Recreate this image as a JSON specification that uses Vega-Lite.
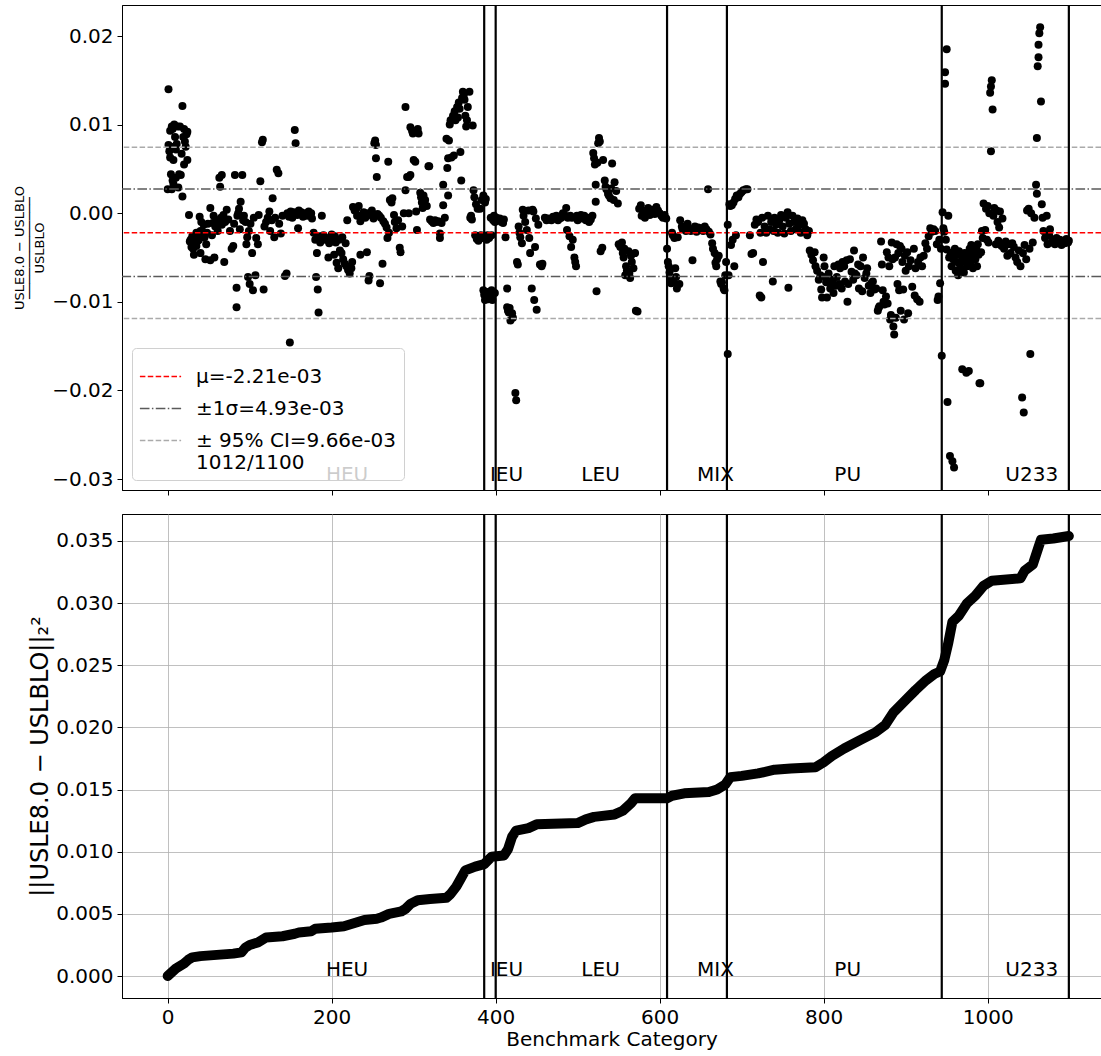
{
"$schema": "https://vega.github.io/schema/vega-lite/v6.json",
"padding": {"left": 13, "top": 3, "right": 0, "bottom": 2},
"config": {
  "font": "DejaVu Sans",
  "view": {"stroke": "black", "strokeWidth": 1},
  "axis": {"domainColor": "black", "tickColor": "black", "labelColor": "black", "titleColor": "black", "labelFontSize": 20, "titleFontSize": 20, "titleFontWeight": "normal", "tickSize": 5, "labelPadding": 4, "grid": false, "labelFont": "DejaVu Sans", "titleFont": "DejaVu Sans"},
  "legend": {"fillColor": "rgba(255,255,255,0.8)", "strokeColor": "#d0d0d0", "cornerRadius": 4, "padding": 7, "labelFontSize": 20, "labelFont": "DejaVu Sans", "labelColor": "black", "symbolType": "stroke", "symbolSize": 1700, "symbolStrokeWidth": 1.5, "rowPadding": 0, "labelOffset": 14, "labelLimit": 400}
},
"datasets": {
"hl": [{"y": -0.00221, "k": "μ=-2.21e-03"}, {"y": 0.00272, "k": "±1σ=4.93e-03"}, {"y": -0.00714, "k": "±1σ=4.93e-03"}, {"y": 0.00745, "k": "± 95% CI=9.66e-03"}, {"y": -0.01187, "k": "± 95% CI=9.66e-03"}],
"vl": [{"x": 386}, {"x": 400}, {"x": 609}, {"x": 682}, {"x": 944}, {"x": 1099}],
"cats": [{"c": "HEU", "x": 193}, {"c": "IEU", "x": 393}, {"c": "LEU", "x": 504.5}, {"c": "MIX", "x": 645.5}, {"c": "PU", "x": 813}, {"c": "U233", "x": 1021.5}],
"cum": [{"x":0,"y":0},{"x":5,"y":0.0003},{"x":10,"y":0.0006},{"x":20,"y":0.0010},{"x":25,"y":0.0013},{"x":30,"y":0.0015},{"x":40,"y":0.0016},{"x":60,"y":0.0017},{"x":80,"y":0.0018},{"x":90,"y":0.0019},{"x":95,"y":0.0023},{"x":100,"y":0.0025},{"x":110,"y":0.0027},{"x":115,"y":0.0029},{"x":120,"y":0.0031},{"x":140,"y":0.0032},{"x":155,"y":0.0034},{"x":160,"y":0.0035},{"x":175,"y":0.0036},{"x":180,"y":0.0038},{"x":200,"y":0.0039},{"x":215,"y":0.0040},{"x":225,"y":0.0042},{"x":240,"y":0.0045},{"x":255,"y":0.0046},{"x":260,"y":0.0047},{"x":270,"y":0.0050},{"x":285,"y":0.0052},{"x":290,"y":0.0054},{"x":296,"y":0.0058},{"x":305,"y":0.0061},{"x":320,"y":0.0062},{"x":340,"y":0.0063},{"x":345,"y":0.0066},{"x":352,"y":0.0072},{"x":358,"y":0.0079},{"x":363,"y":0.0085},{"x":375,"y":0.0088},{"x":386,"y":0.0090},{"x":395,"y":0.0096},{"x":410,"y":0.0097},{"x":415,"y":0.0102},{"x":420,"y":0.0112},{"x":425,"y":0.0117},{"x":440,"y":0.0119},{"x":450,"y":0.0122},{"x":500,"y":0.0123},{"x":510,"y":0.0126},{"x":520,"y":0.0128},{"x":545,"y":0.0130},{"x":555,"y":0.0133},{"x":565,"y":0.0139},{"x":570,"y":0.0143},{"x":609,"y":0.0143},{"x":615,"y":0.0145},{"x":630,"y":0.0147},{"x":660,"y":0.0148},{"x":670,"y":0.0150},{"x":680,"y":0.0154},{"x":686,"y":0.0160},{"x":700,"y":0.0161},{"x":720,"y":0.0163},{"x":740,"y":0.0166},{"x":760,"y":0.0167},{"x":790,"y":0.0168},{"x":800,"y":0.0172},{"x":810,"y":0.0177},{"x":825,"y":0.0183},{"x":845,"y":0.0190},{"x":863,"y":0.0196},{"x":875,"y":0.0202},{"x":885,"y":0.0212},{"x":900,"y":0.0222},{"x":912,"y":0.0230},{"x":925,"y":0.0238},{"x":935,"y":0.0243},{"x":942,"y":0.0245},{"x":947,"y":0.0254},{"x":952,"y":0.0268},{"x":957,"y":0.0285},{"x":965,"y":0.0290},{"x":975,"y":0.0300},{"x":985,"y":0.0306},{"x":995,"y":0.0314},{"x":1005,"y":0.0318},{"x":1040,"y":0.0320},{"x":1045,"y":0.0326},{"x":1055,"y":0.0331},{"x":1062,"y":0.0345},{"x":1065,"y":0.0351},{"x":1080,"y":0.0352},{"x":1099,"y":0.0354}],
"pts": [
{"x":0,"y":0.0027},{"x":1,"y":0.0140},{"x":1,"y":0.0077},{"x":2,"y":0.0070},{"x":3,"y":0.0093},{"x":3,"y":0.0063},{"x":4,"y":0.0075},{"x":4,"y":0.0044},{"x":5,"y":0.0098},{"x":5,"y":0.0027},{"x":6,"y":0.0037},{"x":6,"y":0.0095},{"x":7,"y":0.0060},{"x":7,"y":0.0033},{"x":8,"y":0.0100},{"x":9,"y":0.0086},{"x":10,"y":0.0072},{"x":10,"y":0.0040},{"x":11,"y":0.0078},{"x":12,"y":0.0098},{"x":13,"y":0.0029},{"x":14,"y":0.0044},{"x":15,"y":0.0098},{"x":16,"y":0.0043},{"x":17,"y":0.0067},{"x":18,"y":0.0121},{"x":18,"y":0.0019},{"x":19,"y":0.0086},{"x":20,"y":0.0095},{"x":20,"y":0.0055},{"x":21,"y":0.0081},{"x":22,"y":0.0075},{"x":23,"y":0.0089},{"x":24,"y":0.0092},{"x":24,"y":0.0060},
{"x":26,"y":-0.0002},{"x":27,"y":-0.0032},{"x":28,"y":-0.0030},{"x":29,"y":-0.0038},{"x":30,"y":-0.0035},{"x":30,"y":-0.0026},{"x":31,"y":-0.0040},{"x":32,"y":-0.0047},{"x":33,"y":-0.0028},{"x":34,"y":-0.0034},{"x":35,"y":-0.0037},{"x":35,"y":-0.0022},{"x":36,"y":-0.0025},{"x":37,"y":-0.0031},{"x":38,"y":-0.0030},{"x":39,"y":-0.0004},{"x":40,"y":-0.0045},{"x":40,"y":-0.0020},{"x":41,"y":-0.0010},{"x":42,"y":-0.0020},{"x":43,"y":-0.0027},{"x":44,"y":-0.0013},{"x":45,"y":-0.0027},{"x":46,"y":-0.0052},{"x":47,"y":-0.0035},{"x":48,"y":-0.0022},{"x":49,"y":-0.0012},
{"x":52,"y":0.0006},{"x":52,"y":-0.0053},{"x":54,"y":-0.0025},{"x":55,"y":-0.0011},{"x":56,"y":-0.0003},{"x":57,"y":-0.0050},{"x":58,"y":-0.0015},{"x":60,"y":-0.0008},{"x":61,"y":-0.0020},{"x":63,"y":0.0040},{"x":64,"y":0.0030},{"x":65,"y":-0.0005},{"x":66,"y":0.0043},{"x":66,"y":-0.0013},{"x":68,"y":-0.0002},{"x":69,"y":-0.0055},{"x":70,"y":-0.0010},{"x":72,"y":0.0004},{"x":74,"y":-0.0007},{"x":76,"y":-0.0020},{"x":78,"y":-0.0040},{"x":80,"y":-0.0037},{"x":81,"y":-0.0012},{"x":82,"y":0.0043},{"x":84,"y":-0.0084},{"x":84,"y":-0.0106},{"x":85,"y":-0.0003},{"x":86,"y":0.0000},{"x":87,"y":0.0005},{"x":88,"y":-0.0018},{"x":89,"y":0.0013},{"x":91,"y":0.0043},{"x":92,"y":-0.0008},{"x":93,"y":-0.0003},{"x":95,"y":-0.0010},{"x":96,"y":-0.0035},{"x":97,"y":-0.0027},{"x":98,"y":-0.0072},{"x":99,"y":-0.0020},{"x":100,"y":-0.0080},
{"x":101,"y":-0.0012},{"x":103,"y":-0.0045},{"x":104,"y":-0.0087},{"x":105,"y":-0.0005},{"x":107,"y":-0.0070},{"x":108,"y":-0.0028},{"x":110,"y":-0.0035},{"x":111,"y":-0.0002},{"x":113,"y":0.0036},{"x":115,"y":0.0080},{"x":116,"y":0.0083},{"x":117,"y":-0.0086},{"x":118,"y":-0.0015},{"x":120,"y":-0.0010},{"x":122,"y":-0.0005},{"x":124,"y":0.0002},{"x":125,"y":-0.0020},{"x":127,"y":-0.0008},{"x":128,"y":0.0017},{"x":130,"y":-0.0027},{"x":131,"y":-0.0005},{"x":133,"y":0.0049},{"x":135,"y":0.0045},{"x":136,"y":-0.0012},{"x":138,"y":-0.0023},{"x":140,"y":-0.0003},{"x":143,"y":-0.0071},{"x":145,"y":-0.0068},{"x":146,"y":0.0000},{"x":148,"y":-0.0004},{"x":149,"y":-0.0146},{"x":150,"y":0.0002},{"x":152,"y":-0.0005},{"x":154,"y":0.0001},{"x":155,"y":0.0094},{"x":156,"y":0.0079},{"x":158,"y":-0.0002},{"x":159,"y":-0.0017},{"x":160,"y":0.0003},{"x":162,"y":-0.0001},{"x":163,"y":0.0001},{"x":165,"y":-0.0004},{"x":168,"y":0.0000},{"x":170,"y":-0.0003},{"x":172,"y":0.0002},{"x":175,"y":0.0000},{"x":176,"y":-0.0006},{"x":178,"y":-0.0022},{"x":180,"y":-0.0030},{"x":181,"y":-0.0072},{"x":182,"y":-0.0045},{"x":183,"y":-0.0086},{"x":184,"y":-0.0112},{"x":185,"y":-0.0026},{"x":186,"y":-0.0033},{"x":188,"y":-0.0003},{"x":190,"y":-0.0025},{"x":192,"y":-0.0030},{"x":194,"y":-0.0028},{"x":196,"y":-0.0050},{"x":197,"y":-0.0034},{"x":199,"y":-0.0032},
{"x":200,"y":-0.0024},{"x":201,"y":-0.0029},{"x":203,"y":-0.0047},{"x":204,"y":-0.0026},{"x":205,"y":-0.0033},{"x":206,"y":-0.0056},{"x":208,"y":-0.0062},{"x":209,"y":-0.0030},{"x":210,"y":-0.0042},{"x":212,"y":-0.0045},{"x":213,"y":-0.0027},{"x":214,"y":-0.0052},{"x":216,"y":-0.0057},{"x":217,"y":-0.0034},{"x":218,"y":-0.0060},{"x":219,"y":-0.0008},{"x":220,"y":-0.0064},{"x":222,"y":-0.0068},{"x":224,"y":-0.0062},{"x":225,"y":-0.0055},{"x":226,"y":0.0007},{"x":228,"y":0.0003},{"x":230,"y":0.0005},{"x":231,"y":-0.0003},{"x":233,"y":0.0008},{"x":235,"y":-0.0047},{"x":235,"y":-0.0009},{"x":237,"y":-0.0002},{"x":239,"y":0.0001},{"x":241,"y":-0.0005},{"x":243,"y":-0.0044},{"x":244,"y":0.0000},{"x":245,"y":-0.0076},{"x":246,"y":-0.0071},{"x":247,"y":-0.0002},{"x":249,"y":0.0003},{"x":251,"y":-0.0006},{"x":252,"y":0.0079},{"x":253,"y":0.0082},{"x":254,"y":0.0077},{"x":254,"y":0.0062},{"x":255,"y":0.0041},{"x":256,"y":-0.0001},{"x":258,"y":-0.0003},{"x":259,"y":-0.0079},{"x":260,"y":-0.0005},{"x":262,"y":-0.0057},{"x":263,"y":-0.0009},{"x":265,"y":-0.0012},{"x":267,"y":-0.0016},{"x":268,"y":-0.0028},{"x":269,"y":0.0058},{"x":270,"y":-0.0022},{"x":271,"y":0.0015},{"x":273,"y":0.0012},{"x":274,"y":0.0017},{"x":276,"y":-0.0002},{"x":277,"y":-0.0010},{"x":279,"y":-0.0017},{"x":281,"y":-0.0008},{"x":283,"y":-0.0039},{"x":284,"y":-0.0044},{"x":286,"y":-0.0015},
{"x":288,"y":0.0000},{"x":290,"y":0.0120},{"x":290,"y":0.0026},{"x":292,"y":0.0041},{"x":294,"y":0.0041},{"x":294,"y":0.0000},{"x":296,"y":0.0043},{"x":296,"y":0.0097},{"x":298,"y":0.0093},{"x":299,"y":0.0090},{"x":300,"y":0.0060},{"x":301,"y":0.0092},{"x":302,"y":0.0058},{"x":303,"y":0.0002},{"x":304,"y":-0.0019},{"x":305,"y":0.0095},{"x":306,"y":0.0090},{"x":308,"y":0.0023},{"x":309,"y":0.0018},{"x":310,"y":0.0012},{"x":311,"y":0.0006},{"x":312,"y":0.0020},{"x":313,"y":0.0010},{"x":314,"y":0.0015},{"x":316,"y":0.0008},{"x":318,"y":0.0053},{"x":319,"y":0.0053},{"x":320,"y":-0.0007},{"x":322,"y":-0.0009},{"x":324,"y":-0.0011},{"x":326,"y":-0.0008},{"x":328,"y":-0.0010},{"x":330,"y":-0.0009},{"x":332,"y":-0.0023},{"x":332,"y":-0.0028},{"x":334,"y":-0.0011},{"x":336,"y":0.0032},{"x":336,"y":0.0009},{"x":338,"y":-0.0005},{"x":340,"y":0.0084},{"x":341,"y":0.0051},{"x":342,"y":0.0062},{"x":342,"y":0.0020},{"x":343,"y":0.0082},{"x":344,"y":0.0100},{"x":345,"y":0.0105},{"x":346,"y":0.0063},{"x":348,"y":0.0110},{"x":349,"y":0.0065},{"x":350,"y":0.0115},{"x":351,"y":0.0105},{"x":353,"y":0.0120},{"x":354,"y":0.0108},{"x":355,"y":0.0125},{"x":356,"y":0.0118},{"x":357,"y":0.0069},{"x":358,"y":0.0037},{"x":359,"y":0.0130},{"x":360,"y":0.0137},{"x":361,"y":0.0133},{"x":362,"y":0.0128},{"x":363,"y":0.0110},{"x":364,"y":0.0098},{"x":365,"y":0.0105},{"x":366,"y":0.0120},{"x":368,"y":0.0137},{"x":369,"y":-0.0005},{"x":370,"y":-0.0003},{"x":371,"y":-0.0007},{"x":372,"y":0.0099},{"x":373,"y":0.0026},{"x":374,"y":0.0018},{"x":375,"y":-0.0025},{"x":376,"y":0.0010},{"x":377,"y":-0.0029},{"x":378,"y":0.0005},{"x":379,"y":-0.0031},{"x":380,"y":-0.0027},{"x":381,"y":0.0005},{"x":382,"y":-0.0025},{"x":383,"y":0.0015},{"x":384,"y":-0.0028},{"x":385,"y":0.0020},{"x":385,"y":-0.0087},
{"x":386,"y":-0.0092},{"x":387,"y":-0.0098},{"x":387,"y":0.0012},{"x":388,"y":-0.0095},{"x":388,"y":0.0016},{"x":389,"y":-0.0030},{"x":390,"y":-0.0025},{"x":390,"y":-0.0089},{"x":391,"y":-0.0097},{"x":392,"y":-0.0028},{"x":393,"y":-0.0094},{"x":394,"y":-0.0005},{"x":395,"y":-0.0025},{"x":395,"y":-0.0087},{"x":396,"y":-0.0098},{"x":397,"y":-0.0008},{"x":398,"y":-0.0003},{"x":399,"y":-0.0010},{"x":399,"y":-0.0090},
{"x":401,"y":-0.0005},{"x":403,"y":-0.0008},{"x":405,"y":-0.0006},{"x":407,"y":-0.0010},{"x":409,"y":-0.0011},{"x":410,"y":-0.0007},{"x":412,"y":-0.0027},{"x":414,"y":-0.0085},{"x":414,"y":-0.0106},{"x":415,"y":-0.0110},{"x":416,"y":-0.0112},{"x":417,"y":-0.0107},{"x":418,"y":-0.0121},{"x":420,"y":-0.0113},{"x":421,"y":-0.0118},{"x":424,"y":-0.0203},{"x":425,"y":-0.0211},{"x":426,"y":-0.0055},{"x":427,"y":-0.0058},{"x":428,"y":-0.0015},{"x":429,"y":-0.0022},{"x":430,"y":-0.0027},{"x":432,"y":-0.0034},{"x":433,"y":0.0004},{"x":434,"y":-0.0003},{"x":436,"y":-0.0010},{"x":438,"y":-0.0019},{"x":440,"y":0.0003},{"x":441,"y":-0.0028},{"x":442,"y":-0.0045},{"x":444,"y":-0.0085},{"x":445,"y":0.0004},{"x":446,"y":0.0002},{"x":447,"y":-0.0098},{"x":448,"y":-0.0038},{"x":449,"y":-0.0006},{"x":450,"y":-0.0109},{"x":452,"y":-0.0013},{"x":454,"y":-0.0058},{"x":456,"y":-0.0060},{"x":457,"y":-0.0057},{"x":460,"y":-0.0005},{"x":462,"y":-0.0008},{"x":464,"y":-0.0006},{"x":466,"y":-0.0007},{"x":468,"y":-0.0008},{"x":470,"y":-0.0004},{"x":472,"y":-0.0006},{"x":474,"y":-0.0003},{"x":476,"y":-0.0008},{"x":478,"y":-0.0006},{"x":480,"y":-0.0005},{"x":482,"y":0.0000},{"x":484,"y":-0.0002},{"x":486,"y":0.0006},{"x":487,"y":-0.0019},{"x":488,"y":-0.0005},{"x":490,"y":-0.0026},{"x":491,"y":-0.0003},{"x":492,"y":-0.0038},{"x":493,"y":-0.0005},{"x":494,"y":-0.0030},{"x":496,"y":-0.0050},{"x":497,"y":-0.0055},{"x":498,"y":-0.0060},{"x":499,"y":-0.0003},{"x":500,"y":-0.0008},{"x":502,"y":-0.0004},{"x":504,"y":-0.0002},{"x":506,"y":-0.0006},{"x":508,"y":-0.0003},{"x":510,"y":-0.0008},{"x":512,"y":-0.0005},{"x":514,"y":-0.0010},{"x":516,"y":-0.0007},{"x":518,"y":-0.0003},{"x":519,"y":0.0068},{"x":520,"y":0.0062},{"x":521,"y":0.0055},{"x":522,"y":0.0032},{"x":522,"y":0.0013},{"x":523,"y":-0.0088},{"x":524,"y":0.0057},{"x":525,"y":0.0079},{"x":526,"y":0.0085},{"x":527,"y":0.0081},{"x":528,"y":-0.0043},{"x":530,"y":-0.0039},{"x":531,"y":0.0060},{"x":533,"y":0.0037},{"x":534,"y":0.0030},{"x":535,"y":0.0027},{"x":537,"y":0.0022},{"x":538,"y":0.0020},{"x":540,"y":0.0017},{"x":541,"y":0.0028},{"x":542,"y":0.0056},{"x":544,"y":0.0015},{"x":545,"y":0.0035},{"x":547,"y":0.0025},{"x":549,"y":0.0011},{"x":550,"y":-0.0035},{"x":552,"y":-0.0038},{"x":554,"y":-0.0033},{"x":555,"y":-0.0045},{"x":556,"y":-0.0050},{"x":557,"y":-0.0040},{"x":558,"y":-0.0070},{"x":559,"y":-0.0060},{"x":560,"y":-0.0065},{"x":562,"y":-0.0043},{"x":563,"y":-0.0068},{"x":564,"y":-0.0073},{"x":565,"y":-0.0048},{"x":566,"y":-0.0055},{"x":568,"y":-0.0062},{"x":570,"y":-0.0045},{"x":571,"y":-0.0110},{"x":573,"y":-0.0111},{"x":575,"y":0.0005},{"x":577,"y":0.0009},{"x":578,"y":-0.0003},{"x":580,"y":0.0001},{"x":582,"y":-0.0005},{"x":584,"y":0.0003},{"x":586,"y":0.0006},{"x":588,"y":-0.0002},{"x":590,"y":0.0001},{"x":592,"y":0.0004},{"x":594,"y":-0.0001},{"x":596,"y":0.0007},{"x":598,"y":0.0003},{"x":600,"y":0.0000},{"x":602,"y":-0.0003},{"x":604,"y":-0.0005},{"x":606,"y":-0.0002},{"x":608,"y":-0.0006},
{"x":609,"y":-0.0040},{"x":610,"y":-0.0055},{"x":611,"y":-0.0060},{"x":612,"y":-0.0067},{"x":613,"y":-0.0076},{"x":614,"y":-0.0079},{"x":615,"y":-0.0022},{"x":616,"y":-0.0025},{"x":617,"y":-0.0078},{"x":618,"y":-0.0028},{"x":619,"y":-0.0062},{"x":620,"y":-0.0072},{"x":621,"y":-0.0085},{"x":622,"y":-0.0027},{"x":624,"y":-0.0080},{"x":625,"y":-0.0008},{"x":627,"y":-0.0015},{"x":628,"y":-0.0018},{"x":630,"y":-0.0015},{"x":632,"y":-0.0020},{"x":634,"y":-0.0012},{"x":636,"y":-0.0018},{"x":638,"y":-0.0020},{"x":640,"y":-0.0053},{"x":641,"y":-0.0018},{"x":643,"y":-0.0015},{"x":645,"y":-0.0021},{"x":647,"y":-0.0016},{"x":649,"y":-0.0019},{"x":651,"y":-0.0017},{"x":653,"y":-0.0020},{"x":655,"y":-0.0015},{"x":657,"y":-0.0018},{"x":659,"y":0.0027},{"x":660,"y":-0.0021},{"x":662,"y":-0.0024},{"x":664,"y":-0.0034},{"x":665,"y":-0.0040},{"x":667,"y":-0.0045},{"x":668,"y":-0.0056},{"x":669,"y":-0.0060},{"x":670,"y":-0.0052},{"x":672,"y":-0.0048},{"x":674,"y":-0.0077},{"x":675,"y":-0.0080},{"x":676,"y":-0.0078},{"x":678,"y":-0.0085},{"x":679,"y":-0.0087},{"x":680,"y":-0.0070},{"x":681,"y":-0.0055},
{"x":683,"y":-0.0159},{"x":683,"y":-0.0013},{"x":684,"y":-0.0070},{"x":685,"y":0.0010},{"x":686,"y":0.0008},{"x":687,"y":-0.0036},{"x":688,"y":0.0009},{"x":689,"y":-0.0030},{"x":690,"y":0.0012},{"x":691,"y":-0.0060},{"x":692,"y":0.0016},{"x":693,"y":-0.0025},{"x":694,"y":0.0020},{"x":696,"y":0.0018},{"x":698,"y":0.0022},{"x":700,"y":0.0024},{"x":702,"y":0.0026},{"x":705,"y":0.0027},{"x":707,"y":0.0027},{"x":710,"y":-0.0025},{"x":712,"y":-0.0046},{"x":714,"y":-0.0045},{"x":716,"y":-0.0013},{"x":718,"y":-0.0007},{"x":720,"y":-0.0010},{"x":722,"y":-0.0093},{"x":723,"y":-0.0022},{"x":724,"y":-0.0095},{"x":725,"y":-0.0005},{"x":726,"y":-0.0055},{"x":728,"y":-0.0015},{"x":730,"y":-0.0022},{"x":732,"y":-0.0003},{"x":734,"y":-0.0018},{"x":736,"y":-0.0010},{"x":738,"y":-0.0077},{"x":739,"y":-0.0020},{"x":740,"y":-0.0005},{"x":742,"y":-0.0013},{"x":744,"y":-0.0022},{"x":746,"y":-0.0008},{"x":748,"y":-0.0002},{"x":750,"y":-0.0015},{"x":752,"y":-0.0023},{"x":754,"y":-0.0005},{"x":756,"y":0.0001},{"x":757,"y":-0.0084},{"x":758,"y":-0.0012},{"x":760,"y":-0.0020},{"x":762,"y":-0.0003},{"x":764,"y":-0.0010},{"x":766,"y":-0.0018},{"x":768,"y":-0.0006},{"x":770,"y":-0.0014},{"x":772,"y":-0.0022},{"x":774,"y":-0.0008},{"x":776,"y":-0.0012},{"x":778,"y":-0.0018},{"x":780,"y":-0.0025},{"x":782,"y":-0.0020},{"x":783,"y":-0.0042},{"x":785,"y":-0.0047},{"x":787,"y":-0.0053},{"x":789,"y":-0.0044},{"x":790,"y":-0.0060},{"x":792,"y":-0.0065},{"x":794,"y":-0.0075},{"x":796,"y":-0.0070},{"x":797,"y":-0.0086},{"x":798,"y":-0.0095},{"x":800,"y":-0.0050},{"x":801,"y":-0.0060},{"x":802,"y":-0.0072},{"x":803,"y":-0.0078},{"x":804,"y":-0.0095},{"x":806,"y":-0.0068},{"x":808,"y":-0.0085},{"x":810,"y":-0.0080},{"x":811,"y":-0.0075},{"x":812,"y":-0.0090},{"x":813,"y":-0.0060},{"x":815,"y":-0.0082},{"x":816,"y":-0.0072},{"x":818,"y":-0.0058},{"x":819,"y":-0.0080},{"x":820,"y":-0.0062},{"x":822,"y":-0.0085},{"x":823,"y":-0.0055},{"x":825,"y":-0.0060},{"x":826,"y":-0.0077},{"x":828,"y":-0.0053},{"x":829,"y":-0.0100},{"x":830,"y":-0.0080},{"x":832,"y":-0.0052},{"x":834,"y":-0.0066},{"x":836,"y":-0.0075},{"x":837,"y":-0.0042},{"x":838,"y":-0.0068},{"x":840,"y":-0.0070},{"x":842,"y":-0.0058},{"x":843,"y":-0.0085},{"x":845,"y":-0.0060},{"x":847,"y":-0.0088},{"x":848,"y":-0.0050},{"x":850,"y":-0.0073},{"x":852,"y":-0.0068},{"x":853,"y":-0.0062},{"x":855,"y":-0.0082},{"x":857,"y":-0.0090},{"x":858,"y":-0.0079},{"x":860,"y":-0.0077},{"x":862,"y":-0.0086},{"x":864,"y":-0.0085},{"x":866,"y":-0.0110},{"x":867,"y":-0.0107},{"x":868,"y":-0.0105},{"x":870,"y":-0.0032},{"x":871,"y":-0.0058},{"x":872,"y":-0.0087},{"x":873,"y":-0.0100},{"x":874,"y":-0.0103},{"x":876,"y":-0.0094},{"x":877,"y":-0.0044},{"x":878,"y":-0.0102},{"x":879,"y":-0.0050},{"x":880,"y":-0.0060},{"x":881,"y":-0.0120},{"x":882,"y":-0.0115},{"x":883,"y":-0.0033},{"x":884,"y":-0.0052},{"x":885,"y":-0.0128},{"x":886,"y":-0.0137},{"x":887,"y":-0.0050},{"x":888,"y":-0.0118},{"x":889,"y":-0.0035},{"x":890,"y":-0.0080},{"x":891,"y":-0.0045},{"x":892,"y":-0.0087},{"x":893,"y":-0.0037},{"x":894,"y":-0.0110},{"x":895,"y":-0.0040},{"x":896,"y":-0.0055},{"x":897,"y":-0.0086},{"x":898,"y":-0.0120},{"x":899,"y":-0.0048},{"x":900,"y":-0.0065},{"x":902,"y":-0.0044},{"x":903,"y":-0.0113},{"x":904,"y":-0.0060},{"x":906,"y":-0.0053},{"x":908,"y":-0.0083},{"x":910,"y":-0.0040},{"x":911,"y":-0.0093},{"x":912,"y":-0.0062},{"x":914,"y":-0.0097},{"x":915,"y":-0.0055},{"x":917,"y":-0.0100},{"x":918,"y":-0.0050},{"x":920,"y":-0.0060},{"x":922,"y":-0.0048},{"x":924,"y":-0.0034},{"x":926,"y":-0.0040},{"x":928,"y":-0.0026},{"x":930,"y":-0.0017},{"x":932,"y":-0.0021},{"x":934,"y":-0.0018},{"x":936,"y":-0.0020},{"x":938,"y":-0.0035},{"x":939,"y":-0.0098},{"x":940,"y":-0.0094},{"x":941,"y":-0.0030},{"x":942,"y":-0.0079},{"x":943,"y":-0.0040},{"x":944,"y":-0.0161},
{"x":945,"y":0.0001},{"x":946,"y":-0.0017},{"x":947,"y":-0.0021},{"x":948,"y":0.0159},{"x":948,"y":0.0146},{"x":949,"y":-0.0030},{"x":950,"y":0.0185},{"x":950,"y":-0.0041},{"x":951,"y":-0.0213},{"x":952,"y":-0.0003},{"x":953,"y":-0.0050},{"x":954,"y":-0.0274},{"x":955,"y":-0.0045},{"x":956,"y":-0.0060},{"x":957,"y":-0.0280},{"x":958,"y":-0.0052},{"x":959,"y":-0.0287},{"x":960,"y":-0.0040},{"x":961,"y":-0.0065},{"x":962,"y":-0.0047},{"x":963,"y":-0.0055},{"x":964,"y":-0.0070},{"x":965,"y":-0.0043},{"x":966,"y":-0.0058},{"x":967,"y":-0.0062},{"x":968,"y":-0.0048},{"x":969,"y":-0.0176},{"x":970,"y":-0.0053},{"x":971,"y":-0.0067},{"x":972,"y":-0.0045},{"x":973,"y":-0.0055},{"x":974,"y":-0.0180},{"x":975,"y":-0.0060},{"x":976,"y":-0.0048},{"x":977,"y":-0.0178},{"x":978,"y":-0.0040},{"x":979,"y":-0.0056},{"x":980,"y":-0.0036},{"x":981,"y":-0.0050},{"x":982,"y":-0.0062},{"x":983,"y":-0.0045},{"x":984,"y":-0.0038},{"x":985,"y":-0.0052},{"x":986,"y":-0.0040},{"x":987,"y":-0.0060},{"x":988,"y":-0.0035},{"x":989,"y":-0.0047},{"x":990,"y":-0.0192},{"x":991,"y":-0.0192},{"x":992,"y":-0.0044},{"x":993,"y":-0.0020},{"x":994,"y":-0.0028},{"x":995,"y":0.0011},{"x":997,"y":-0.0019},{"x":998,"y":0.0005},{"x":999,"y":-0.0030},{"x":1000,"y":0.0008},{"x":1001,"y":-0.0033},{"x":1002,"y":0.0000},{"x":1003,"y":0.0136},{"x":1004,"y":0.0143},{"x":1004,"y":0.0070},{"x":1005,"y":0.0150},{"x":1006,"y":0.0117},{"x":1007,"y":-0.0003},{"x":1008,"y":0.0006},{"x":1010,"y":-0.0035},{"x":1011,"y":0.0003},{"x":1012,"y":-0.0010},{"x":1013,"y":-0.0031},{"x":1014,"y":-0.0016},{"x":1015,"y":0.0002},{"x":1017,"y":-0.0037},{"x":1018,"y":-0.0006},{"x":1020,"y":-0.0040},{"x":1022,"y":-0.0032},{"x":1024,"y":-0.0048},{"x":1026,"y":-0.0035},{"x":1028,"y":-0.0045},{"x":1030,"y":-0.0034},{"x":1032,"y":-0.0038},{"x":1034,"y":-0.0050},{"x":1036,"y":-0.0055},{"x":1038,"y":-0.0042},{"x":1040,"y":-0.0060},{"x":1042,"y":-0.0208},{"x":1043,"y":-0.0045},{"x":1044,"y":-0.0225},{"x":1045,"y":-0.0036},{"x":1047,"y":-0.0052},{"x":1048,"y":0.0003},{"x":1050,"y":0.0005},{"x":1051,"y":-0.0040},{"x":1052,"y":-0.0159},{"x":1053,"y":0.0000},{"x":1055,"y":-0.0033},{"x":1057,"y":-0.0005},{"x":1059,"y":0.0032},{"x":1060,"y":0.0085},{"x":1060,"y":0.0022},{"x":1061,"y":0.0166},{"x":1062,"y":0.0176},{"x":1062,"y":0.0190},{"x":1063,"y":0.0203},{"x":1064,"y":0.0210},{"x":1065,"y":0.0126},{"x":1066,"y":0.0010},{"x":1067,"y":-0.0005},{"x":1068,"y":-0.0020},{"x":1070,"y":-0.0028},{"x":1072,"y":-0.0003},{"x":1073,"y":-0.0035},{"x":1075,"y":-0.0025},{"x":1076,"y":-0.0018},{"x":1078,"y":-0.0033},{"x":1080,"y":-0.0030},{"x":1082,"y":-0.0035},{"x":1084,"y":-0.0028},{"x":1086,"y":-0.0033},{"x":1088,"y":-0.0030},{"x":1090,"y":-0.0036},{"x":1092,"y":-0.0031},{"x":1094,"y":-0.0034},{"x":1096,"y":-0.0029},{"x":1098,"y":-0.0033},{"x":1099,"y":-0.0031}
]
},
"spacing": 16,
"resolve": {"scale": {"y": "independent", "color": "independent", "strokeDash": "independent"}, "legend": {"color": "independent", "strokeDash": "independent"}},
"vconcat": [
{
 "width": 979, "height": 485,
 "layer": [
  {"data": {"name": "pts"}, "mark": {"type": "circle", "size": 64, "color": "black", "opacity": 1},
   "encoding": {
    "x": {"field": "x", "type": "quantitative", "scale": {"domain": [-55.7, 1138.2], "nice": false, "zero": false}, "axis": {"values": [0, 200, 400, 600, 800, 1000], "labels": false, "title": null}},
    "y": {"field": "y", "type": "quantitative", "scale": {"domain": [-0.03124, 0.0235], "nice": false, "zero": false}, "axis": {"values": [-0.03, -0.02, -0.01, 0, 0.01, 0.02], "format": ".2f", "title": ["USLE8.0 − USLBLO", "─────────────", "USLBLO"], "titleFontSize": 13, "titleLineHeight": 10, "titlePadding": 5}}
   }},
  {"data": {"name": "hl"}, "mark": {"type": "rule", "strokeWidth": 1.5},
   "encoding": {
    "y": {"field": "y", "type": "quantitative"},
    "color": {"field": "k", "type": "nominal", "scale": {"domain": ["μ=-2.21e-03", "±1σ=4.93e-03", "± 95% CI=9.66e-03"], "range": ["#ff0000", "#5a5a5a", "#aaaaaa"]}, "legend": {"title": null, "orient": "bottom-left", "offset": 10, "labelExpr": "datum.label == '± 95% CI=9.66e-03' ? ['± 95% CI=9.66e-03', '1012/1100'] : datum.label"}},
    "strokeDash": {"field": "k", "type": "nominal", "scale": {"domain": ["μ=-2.21e-03", "±1σ=4.93e-03", "± 95% CI=9.66e-03"], "range": [[5.5, 2.4], [9.6, 2.4, 1.5, 2.4], [5.5, 2.4]]}, "legend": {"title": null, "orient": "bottom-left", "offset": 10, "labelExpr": "datum.label == '± 95% CI=9.66e-03' ? ['± 95% CI=9.66e-03', '1012/1100'] : datum.label"}}
   }},
  {"data": {"name": "vl"}, "mark": {"type": "rule", "color": "black", "strokeWidth": 2.2}, "encoding": {"x": {"field": "x", "type": "quantitative"}}},
  {"data": {"name": "cats"}, "mark": {"type": "text", "align": "left", "baseline": "alphabetic", "fontSize": 20, "color": "black"},
   "encoding": {"x": {"field": "x", "type": "quantitative"}, "y": {"datum": -0.0302}, "text": {"field": "c"}}}
 ]
},
{
 "width": 979, "height": 484,
 "layer": [
  {"data": {"name": "cum"}, "mark": {"type": "line", "color": "black", "strokeWidth": 10, "strokeCap": "round", "strokeJoin": "round"},
   "encoding": {
    "x": {"field": "x", "type": "quantitative", "scale": {"domain": [-55.7, 1138.2], "nice": false, "zero": false}, "axis": {"values": [0, 200, 400, 600, 800, 1000], "format": "d", "title": "Benchmark Category", "titlePadding": 2, "grid": true, "gridColor": "#b0b0b0", "gridWidth": 0.8}},
    "y": {"field": "y", "type": "quantitative", "scale": {"domain": [-0.00177, 0.03717], "nice": false, "zero": false}, "axis": {"values": [0, 0.005, 0.01, 0.015, 0.02, 0.025, 0.03, 0.035], "format": ".3f", "title": "||USLE8.0 − USLBLO||₂²", "titleFontSize": 24, "titlePadding": 3, "grid": true, "gridColor": "#b0b0b0", "gridWidth": 0.8}}
   }},
  {"data": {"name": "cum"}, "mark": {"type": "circle", "size": 70, "color": "black", "opacity": 1},
   "encoding": {"x": {"field": "x", "type": "quantitative"}, "y": {"field": "y", "type": "quantitative"}}},
  {"data": {"name": "vl"}, "mark": {"type": "rule", "color": "black", "strokeWidth": 2.2}, "encoding": {"x": {"field": "x", "type": "quantitative"}}},
  {"data": {"name": "cats"}, "mark": {"type": "text", "align": "left", "baseline": "alphabetic", "fontSize": 20, "color": "black"},
   "encoding": {"x": {"field": "x", "type": "quantitative"}, "y": {"datum": 0}, "text": {"field": "c"}}}
 ]
}
]
}
